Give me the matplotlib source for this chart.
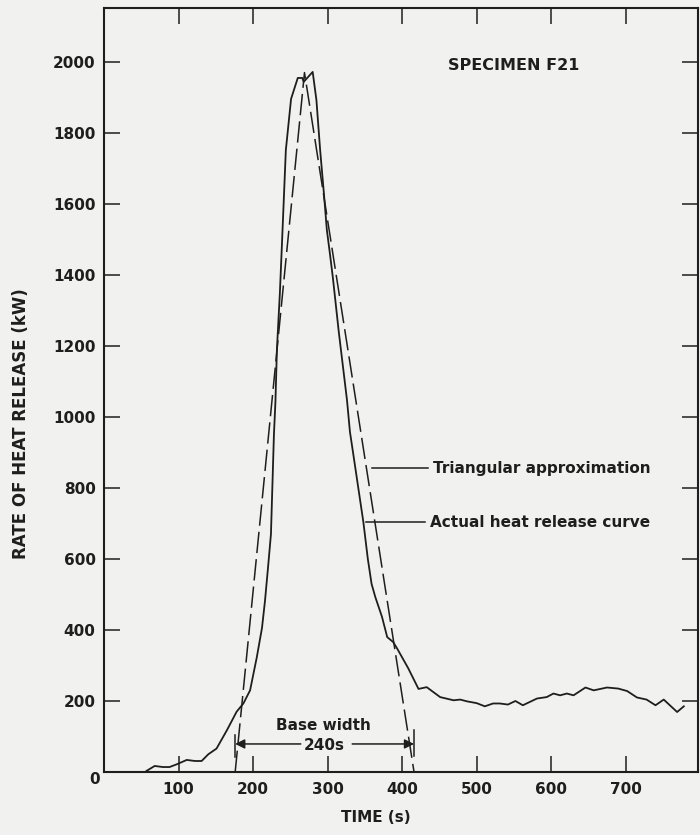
import matplotlib
matplotlib.use("Agg")
import matplotlib.pyplot as plt

# actual heat release curve
time_s = [57, 68, 79, 88, 98, 111, 122, 131, 140, 151, 165, 178, 187, 196,
          205, 212, 216, 220, 224, 226, 228, 230, 232, 236, 239, 244, 251,
          260, 266, 268, 280, 285, 290, 295, 299, 303, 307, 315, 326, 330,
          334, 348, 354, 359, 364, 373, 380, 388, 393, 408, 422, 433, 451, 469,
          478, 487, 500, 511, 522, 531, 542, 552, 562, 581, 594, 603, 612,
          621, 630, 646, 657, 675, 690, 702, 715, 728, 740, 751, 769, 778]
heat_kw = [3, 17, 14, 14, 22, 34, 31, 31, 50, 66, 118, 170, 193, 230,
           323, 406, 482, 574, 670, 810, 950, 1042, 1190, 1350, 1499, 1752, 1896,
           1955, 1955, 1944, 1972, 1893, 1752, 1631, 1527, 1462, 1394, 1240, 1048, 958,
           902, 704, 600, 530, 493, 437, 380, 366, 349, 293, 234, 239, 211, 202,
           204, 199, 194, 185, 193, 193, 190, 200, 188, 207, 211, 221, 216,
           221, 216, 238, 230, 238, 235, 228, 210, 204, 188, 204, 169, 185]

# triangular approximation
tri_t = [176, 269, 416]
tri_q = [0, 1970, 0]

x_ticks = [100, 200, 300, 400, 500, 600, 700]
y_ticks = [200, 400, 600, 800, 1000, 1200, 1400, 1600, 1800, 2000]

bg = "#f1f1ef"
ink = "#1e1e1e"
font = "DejaVu Sans"

fig = plt.figure(figsize=(7.0, 8.35), dpi=100, facecolor=bg)
ax = fig.add_axes([104 / 700, 1 - 772 / 835, 594 / 700, 764 / 835])
ax.set_facecolor(bg)

ax.plot(time_s, heat_kw, color=ink, lw=1.3, solid_joinstyle="round")
ax.plot(tri_t, tri_q, color=ink, lw=1.1, dashes=(14, 4))

ax.set_xlim(0, 797)
ax.set_ylim(0, 2152)

ax.set_xticks(x_ticks)
ax.set_yticks(y_ticks)
ax.tick_params(direction="in", length=11.5, width=1.1, color=ink,
               top=True, right=True, labelsize=11, labelcolor=ink)
ax.tick_params(axis="x", pad=7)
ax.tick_params(axis="y", pad=6)
for lab in ax.get_xticklabels() + ax.get_yticklabels():
    lab.set_fontweight("bold")
    lab.set_family(font)
for sp in ax.spines.values():
    sp.set_linewidth(1.5)
    sp.set_color(ink)

ax.text(-12, -20, "0", ha="center", va="center", fontsize=11,
        fontweight="bold", family=font, color=ink, clip_on=False)

txt = dict(fontsize=11, fontweight="bold", family=font, color=ink)
ax.text(550, 1989, "SPECIMEN F21", ha="center", va="center",
        fontsize=11.5, fontweight="bold", family=font, color=ink)

# base width dimension
ax.plot([tri_t[0], tri_t[0]], [43, 104], color=ink, lw=1.1)
ax.plot([tri_t[2], tri_t[2]], [45, 118], color=ink, lw=1.1)
ax.annotate("", xy=(tri_t[0], 79), xytext=(264, 79),
            arrowprops=dict(arrowstyle="-|>", color=ink, lw=1.1,
                            mutation_scale=14, shrinkA=0, shrinkB=0))
ax.annotate("", xy=(tri_t[2], 79), xytext=(333, 79),
            arrowprops=dict(arrowstyle="-|>", color=ink, lw=1.1,
                            mutation_scale=14, shrinkA=0, shrinkB=0))
ax.text(294, 132, "Base width", ha="center", va="center", **txt)
ax.text(296, 76, "240s", ha="center", va="center", **txt)

# leader labels
ax.plot([360, 435], [856, 856], color=ink, lw=1.1)
ax.text(442, 856, "Triangular approximation", ha="left", va="center", **txt)
ax.plot([351, 431], [704, 704], color=ink, lw=1.1)
ax.text(438, 704, "Actual heat release curve", ha="left", va="center", **txt)

fig.text(376 / 700, 1 - 818 / 835, "TIME (s)", ha="center", va="center", **txt)
fig.text(21 / 700, 1 - 424 / 835, "RATE OF HEAT RELEASE (kW)", ha="center",
         va="center", rotation=90, fontsize=12, fontweight="bold",
         family=font, color=ink)

fig.savefig("out.png", dpi=100, facecolor=bg)
